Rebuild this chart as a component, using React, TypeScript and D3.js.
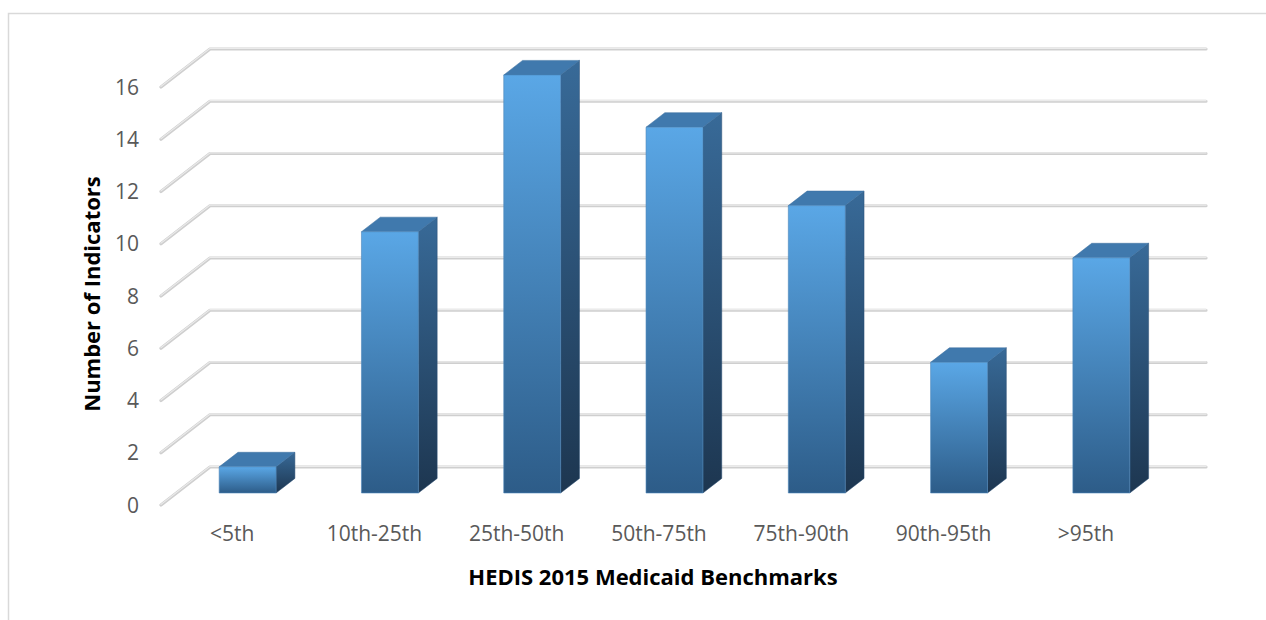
import React from "react";
import * as d3 from "d3";

const categories = ["<5th", "10th-25th", "25th-50th", "50th-75th", "75th-90th", "90th-95th", ">95th"];
const values = [1, 10, 16, 14, 11, 5, 9];
const yTicks = [0, 2, 4, 6, 8, 10, 12, 14, 16];
const xTitle = "HEDIS 2015 Medicaid Benchmarks";
const yTitle = "Number of Indicators";

const W = 1266;
const H = 620;

// 3D projection: front plane origin & depth offset
const frontLeft = 161;
const plotWidth = 996;
const frontZeroY = 505;
const depthDX = 49;
const depthDY = -38;
const barD0 = 0.316;
const barD1 = 0.7;

const FONT = "'Open Sans', sans-serif";

export default function App() {
  const x = d3
    .scaleBand<string>()
    .domain(categories)
    .range([0, plotWidth])
    .paddingInner(0.6)
    .paddingOuter(0.3);
  const y = d3.scaleLinear().domain([0, 16]).range([0, 418]);

  const proj = (px: number, val: number, d: number): [number, number] => [
    frontLeft + px + depthDX * d,
    frontZeroY - y(val) + depthDY * d,
  ];
  const pts = (arr: [number, number][]) => arr.map((p) => p.join(",")).join(" ");

  return (
    <svg
      width={W}
      height={H}
      style={{ position: "absolute", left: 0, top: 0, background: "#fff" }}
    >
      <defs>
        <linearGradient id="front" x1="0" y1="0" x2="0" y2="1">
          <stop offset="0" stopColor="#5aa7e6" />
          <stop offset="1" stopColor="#2d5c88" />
        </linearGradient>
        <linearGradient id="side" x1="0" y1="0" x2="0" y2="1">
          <stop offset="0" stopColor="#386a98" />
          <stop offset="1" stopColor="#1d3650" />
        </linearGradient>
      </defs>
      <rect x={8.5} y={13.5} width={1400} height={800} fill="#fff" stroke="#d9d9d9" strokeWidth={1.5} />

      {/* gridlines: side wall + back wall */}
      {yTicks.map((t) => {
        const a = proj(0, t, 0);
        const b = proj(0, t, 1);
        const c = proj(plotWidth, t, 1);
        const dPath = `M${a[0]},${a[1]} L${b[0]},${b[1]} L${c[0]},${c[1]}`;
        return (
          <g key={t}>
            <path d={dPath} fill="none" stroke="#cfcfcf" strokeWidth={3.2} strokeLinecap="round" strokeLinejoin="round" />
            <path d={dPath} fill="none" stroke="#ebebeb" strokeWidth={1.2} strokeLinecap="round" strokeLinejoin="round" transform="translate(0,-0.6)" />
          </g>
        );
      })}

      {/* bars */}
      {categories.map((c, i) => {
        const v = values[i];
        const x0 = x(c)!;
        const x1 = x0 + x.bandwidth();
        const fTL = proj(x0, v, barD0);
        const fTR = proj(x1, v, barD0);
        const fBR = proj(x1, 0, barD0);
        const fBL = proj(x0, 0, barD0);
        const bTL = proj(x0, v, barD1);
        const bTR = proj(x1, v, barD1);
        const bBR = proj(x1, 0, barD1);
        return (
          <g key={c}>
            <polygon points={pts([fTR, bTR, bBR, fBR])} fill="url(#side)" stroke="#2a4f74" strokeWidth={0.5} />
            <polygon points={pts([fTL, bTL, bTR, fTR])} fill="#4079ad" stroke="#3b6f9f" strokeWidth={0.5} />
            <polygon points={pts([fTL, fTR, fBR, fBL])} fill="url(#front)" stroke="#4d86bb" strokeWidth={0.6} />
          </g>
        );
      })}

      {/* y tick labels */}
      {yTicks.map((t) => {
        const p = proj(0, t, 0);
        return (
          <text key={t} x={p[0] - 22} y={p[1]} dy="0.36em" textAnchor="end" fontFamily={FONT} fontSize={21} fill="#595959">
            {t}
          </text>
        );
      })}

      {/* x category labels */}
      {categories.map((c) => {
        const p = proj(x(c)! + x.bandwidth() / 2, 0, 0);
        return (
          <text key={c} x={p[0]} y={541} textAnchor="middle" fontFamily={FONT} fontSize={21} fill="#595959">
            {c}
          </text>
        );
      })}

      <text x={653} y={585} textAnchor="middle" fontFamily={FONT} fontWeight="bold" fontSize={22} fill="#000">
        {xTitle}
      </text>
      <text
        transform="translate(100,294) rotate(-90)"
        textAnchor="middle"
        fontFamily={FONT}
        fontWeight="bold"
        fontSize={22}
        fill="#000"
      >
        {yTitle}
      </text>
    </svg>
  );
}
